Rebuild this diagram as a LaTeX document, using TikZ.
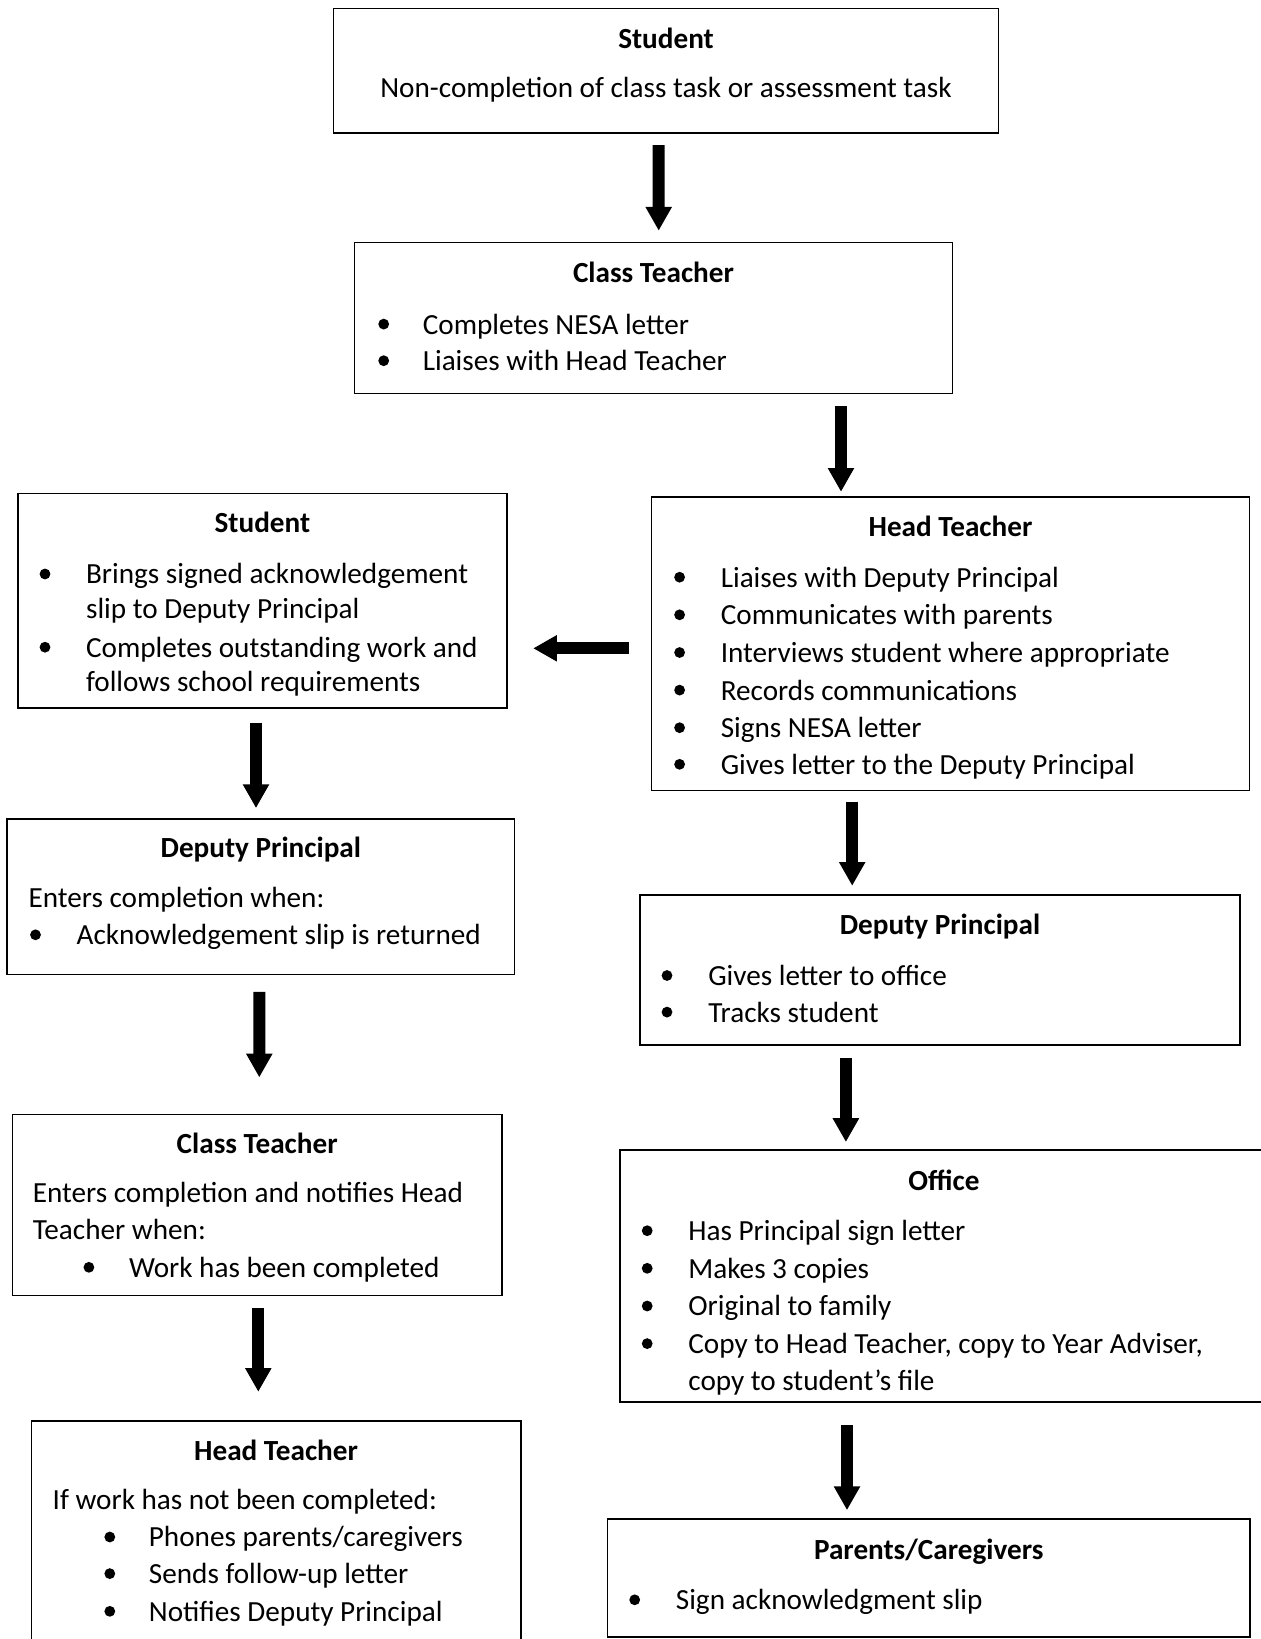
\documentclass[tikz,border=0pt]{standalone}
\usepackage{fontspec}
\setmainfont{Carlito}
\usetikzlibrary{arrows.meta,calc}
\begin{document}
\begin{tikzpicture}[x=0.5pt,y=-0.5pt,
  box/.style={draw,line width=0.9pt,inner sep=0pt,rectangle},
  title/.style={font=\bfseries\fontsize{14.6}{17.25}\selectfont,inner sep=0pt,anchor=mid,yshift=-2.6pt},
  txt/.style={font=\fontsize{14.6}{17.25}\selectfont,inner sep=0pt,anchor=mid west,yshift=-2.6pt},
  dot/.style={circle,fill=black,inner sep=0pt,minimum size=5.4pt},
  bigarrow/.style={line width=6pt,-{Triangle[width=12.4pt,length=11.9pt]}}]
\useasboundingbox (0,0) rectangle (1261,1639);
\clip (0,0) rectangle (1261,1639);
% boxes
\node[box,minimum width=332.5pt,minimum height=62.2pt] (b1) at (666,70.6) {};
\node[box,minimum width=299pt,minimum height=75.5pt] (b2) at (653.5,318) {};
\node[box,minimum width=299pt,minimum height=146.8pt] (b3) at (950.5,643.7) {};
\node[box,minimum width=244.65pt,minimum height=107.2pt] (b4) at (262.4,600.7) {};
\node[box,minimum width=253.55pt,minimum height=77.9pt] (b5) at (260.85,896.6) {};
\node[box,minimum width=244.7pt,minimum height=90.5pt] (b6) at (257.2,1205) {};
\node[box,minimum width=244.65pt,minimum height=140pt] (b7) at (276.05,1561) {};
\node[box,minimum width=300pt,minimum height=74.8pt] (b8) at (940,969.8) {};
\node[box,minimum width=324pt,minimum height=126pt] (b9) at (944,1276.2) {};
\node[box,minimum width=321.25pt,minimum height=58.85pt] (b10) at (928.75,1578.2) {};
% box 1
\node[title] (t1) at (666,38.7) {Student};
\node[txt,anchor=mid] (l1a) at (666,87.8) {Non-completion of class task or assessment task};
% box 2
\node[title] (t2) at (653.5,272.9) {Class Teacher};
\node[dot] (d2a) at (383.7,324.1) {}; \node[txt] (l2a) at (422.4,324.1) {Completes NESA letter};
\node[dot] (d2b) at (383.7,360.7) {}; \node[txt] (l2b) at (422.4,360.7) {Liaises with Head Teacher};
% box 3
\node[title] (t3) at (950.5,527) {Head Teacher};
\node[dot] (d3a) at (679.6,577.2) {}; \node[txt] (l3a) at (720.4,577.2) {Liaises with Deputy Principal};
\node[dot] (d3b) at (679.6,614.8) {}; \node[txt] (l3b) at (720.4,614.8) {Communicates with parents};
\node[dot] (d3c) at (679.6,652.5) {}; \node[txt] (l3c) at (720.4,652.5) {Interviews student where appropriate};
\node[dot] (d3d) at (679.6,690.1) {}; \node[txt] (l3d) at (720.4,690.1) {Records communications};
\node[dot] (d3e) at (679.6,727.7) {}; \node[txt] (l3e) at (720.4,727.7) {Signs NESA letter};
\node[dot] (d3f) at (679.6,764.3) {}; \node[txt] (l3f) at (720.4,764.3) {Gives letter to the Deputy Principal};
% box 4
\node[title] (t4) at (262.4,522.8) {Student};
\node[dot] (d4a) at (45,574) {}; \node[txt] (l4a) at (85.7,574) {Brings signed acknowledgement};
\node[txt] (l4b) at (85.7,608.5) {slip to Deputy Principal};
\node[dot] (d4c) at (45,647.2) {}; \node[txt] (l4c) at (85.7,647.2) {Completes outstanding work and};
\node[txt] (l4d) at (85.7,681.7) {follows school requirements};
% box 5
\node[title] (t5) at (260.85,848) {Deputy Principal};
\node[txt] (l5a) at (28.2,897.1) {Enters completion when:};
\node[dot] (d5b) at (35.5,934.8) {}; \node[txt] (l5b) at (76.3,934.8) {Acknowledgement slip is returned};
% box 6
\node[title] (t6) at (257.2,1143.9) {Class Teacher};
\node[txt] (l6a) at (32.4,1193) {Enters completion and notifies Head};
\node[txt] (l6b) at (32.4,1229.6) {Teacher when:};
\node[dot] (d6c) at (88.9,1267.3) {}; \node[txt] (l6c) at (128.6,1267.3) {Work has been completed};
% box 7
\node[title] (t7) at (276.05,1450.2) {Head Teacher};
\node[txt] (l7a) at (52.3,1499.4) {If work has not been completed:};
\node[dot] (d7b) at (109.8,1537) {}; \node[txt] (l7b) at (148.5,1537) {Phones parents/caregivers};
\node[dot] (d7c) at (109.8,1573.6) {}; \node[txt] (l7c) at (148.5,1573.6) {Sends follow-up letter};
\node[dot] (d7d) at (109.8,1611.3) {}; \node[txt] (l7d) at (148.5,1611.3) {Notifies Deputy Principal};
% box 8
\node[title] (t8) at (940,924.3) {Deputy Principal};
\node[dot] (d8a) at (667,975.5) {}; \node[txt] (l8a) at (707.9,975.5) {Gives letter to office};
\node[dot] (d8b) at (667,1012.1) {}; \node[txt] (l8b) at (707.9,1012.1) {Tracks student};
% box 9
\node[title] (t9) at (944,1180.5) {Office};
\node[dot] (d9a) at (647.2,1230.7) {}; \node[txt] (l9a) at (688,1230.7) {Has Principal sign letter};
\node[dot] (d9b) at (647.2,1268.3) {}; \node[txt] (l9b) at (688,1268.3) {Makes 3 copies};
\node[dot] (d9c) at (647.2,1306) {}; \node[txt] (l9c) at (688,1306) {Original to family};
\node[dot] (d9d) at (647.2,1343.6) {}; \node[txt] (l9d) at (688,1343.6) {Copy to Head Teacher, copy to Year Adviser,};
\node[txt] (l9e) at (688,1380.2) {copy to student’s file};
% box 10
\node[title] (t10) at (928.75,1549.6) {Parents/Caregivers};
\node[dot] (d10a) at (634.7,1599.8) {}; \node[txt] (l10a) at (675.5,1599.8) {Sign acknowledgment slip};
% arrows
\draw[bigarrow] ($(b1.south)+(-7.3,11.5)$) -- ($(b2.north)+(5.2,-10.9)$);
\draw[bigarrow] ($(b2.south)+(187.5,11.5)$) -- ($(b3.north)+(-109.5,-4.2)$);
\draw[bigarrow] ($(b3.west)+(-22.1,4.6)$) -- ($(b4.east)+(25.2,47.6)$);
\draw[bigarrow] ($(b4.south)+(-6.4,13.8)$) -- ($(b5.north)+(-4.85,-9.7)$);
\draw[bigarrow] ($(b5.south)+(-1.55,16.5)$) -- ($(b6.north)+(2.1,-36.2)$);
\draw[bigarrow] ($(b6.south)+(1.1,11.5)$) -- ($(b7.north)+(-17.75,-28.3)$);
\draw[bigarrow] ($(b3.south)+(-98.3,10.5)$) -- ($(b8.north)+(-87.8,-8.3)$);
\draw[bigarrow] ($(b8.south)+(-94.1,12.4)$) -- ($(b9.north)+(-98.1,-7.3)$);
\draw[bigarrow] ($(b9.south)+(-97,21.8)$) -- ($(b10.north)+(-81.75,-8.3)$);
\end{tikzpicture}
\end{document}
